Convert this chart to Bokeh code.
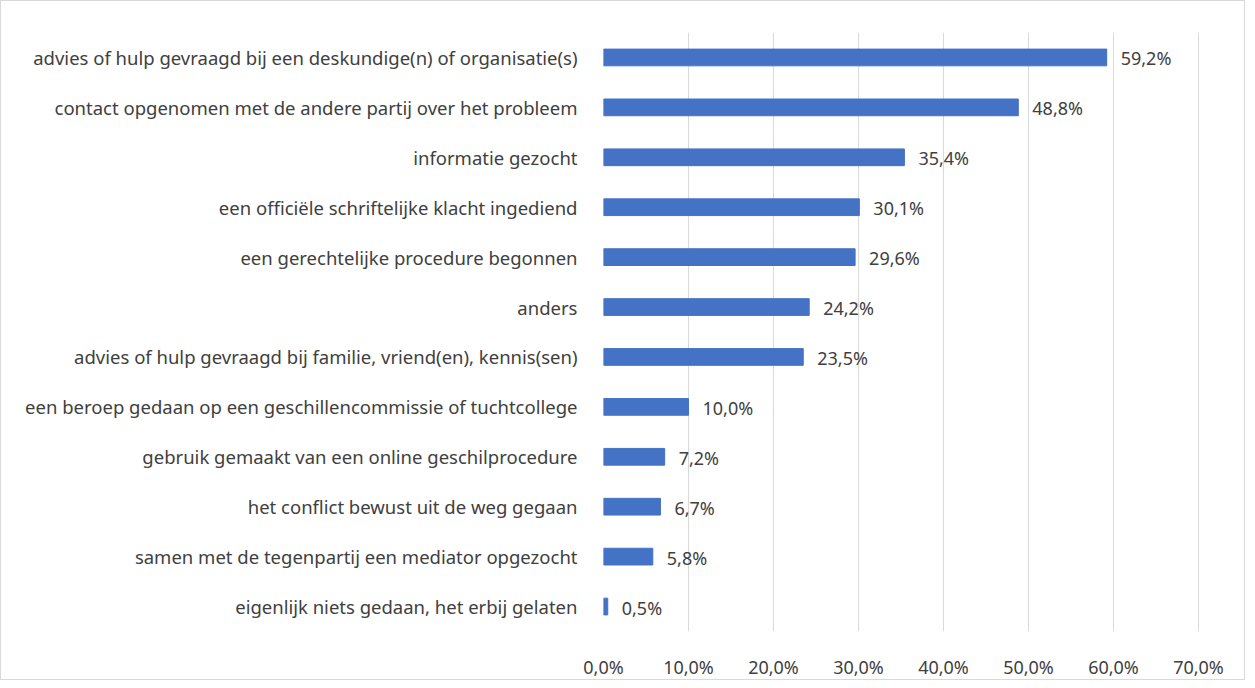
from bokeh.plotting import figure
from bokeh.models import ColumnDataSource, FixedTicker, LabelSet
from bokeh.core.properties import value
from bokeh.embed import file_html
from bokeh.resources import INLINE

categories = [
    "advies of hulp gevraagd bij een deskundige(n) of organisatie(s)",
    "contact opgenomen met de andere partij over het probleem",
    "informatie gezocht",
    "een officiële schriftelijke klacht ingediend",
    "een gerechtelijke procedure begonnen",
    "anders",
    "advies of hulp gevraagd bij familie, vriend(en), kennis(sen)",
    "een beroep gedaan op een geschillencommissie of tuchtcollege",
    "gebruik gemaakt van een online geschilprocedure",
    "het conflict bewust uit de weg gegaan",
    "samen met de tegenpartij een mediator opgezocht",
    "eigenlijk niets gedaan, het erbij gelaten",
]
values = [0.592, 0.488, 0.354, 0.301, 0.296, 0.242, 0.235, 0.100, 0.072, 0.067, 0.058, 0.005]
value_labels = ["59,2%", "48,8%", "35,4%", "30,1%", "29,6%", "24,2%", "23,5%",
                "10,0%", "7,2%", "6,7%", "5,8%", "0,5%"]
x_ticks = [0.0, 0.1, 0.2, 0.3, 0.4, 0.5, 0.6, 0.7]
x_tick_labels = ["0,0%", "10,0%", "20,0%", "30,0%", "40,0%", "50,0%", "60,0%", "70,0%"]

FONT = "Noto Sans"
TXT = "#404040"

src = ColumnDataSource(dict(cat=categories, val=values, lab=value_labels))

p = figure(y_range=list(reversed(categories)), x_range=(0, 0.74),
           width=1245, height=680, output_backend="svg", toolbar_location=None,
           min_border_left=602, min_border_right=14, min_border_top=31, min_border_bottom=41)
p.outline_line_color = None
p.border_fill_color = "white"
p.background_fill_color = "white"
p.styles = {"border": "1px solid #D9D9D9"}

p.hbar(y="cat", right="val", left=0, height=0.335, source=src, color="#4472C4")

labels = LabelSet(x="val", y="cat", text="lab", source=src, x_offset=14, y_offset=-1,
                  text_baseline="middle", text_font=value(FONT), text_font_size="18px",
                  text_color=TXT)
p.add_layout(labels)

p.xaxis.ticker = FixedTicker(ticks=x_ticks)
p.xaxis.major_label_overrides = {t: l for t, l in zip(x_ticks, x_tick_labels)}
p.xaxis.axis_line_color = None
p.xaxis.major_tick_line_color = None
p.xaxis.minor_tick_line_color = None
p.xaxis.major_label_standoff = 17
p.xaxis.major_label_text_font = FONT
p.xaxis.major_label_text_font_size = "18px"
p.xaxis.major_label_text_color = TXT

p.yaxis.axis_line_color = None
p.yaxis.major_tick_line_color = None
p.yaxis.minor_tick_line_color = None
p.yaxis.major_label_standoff = 20
p.yaxis.major_label_text_font = FONT
p.yaxis.major_label_text_font_size = "18.5px"
p.yaxis.major_label_text_color = TXT

p.ygrid.grid_line_color = None
p.xgrid.grid_line_color = "#D9D9D9"
p.xgrid.grid_line_width = 1

open("out.html", "w").write(file_html(p, INLINE))
